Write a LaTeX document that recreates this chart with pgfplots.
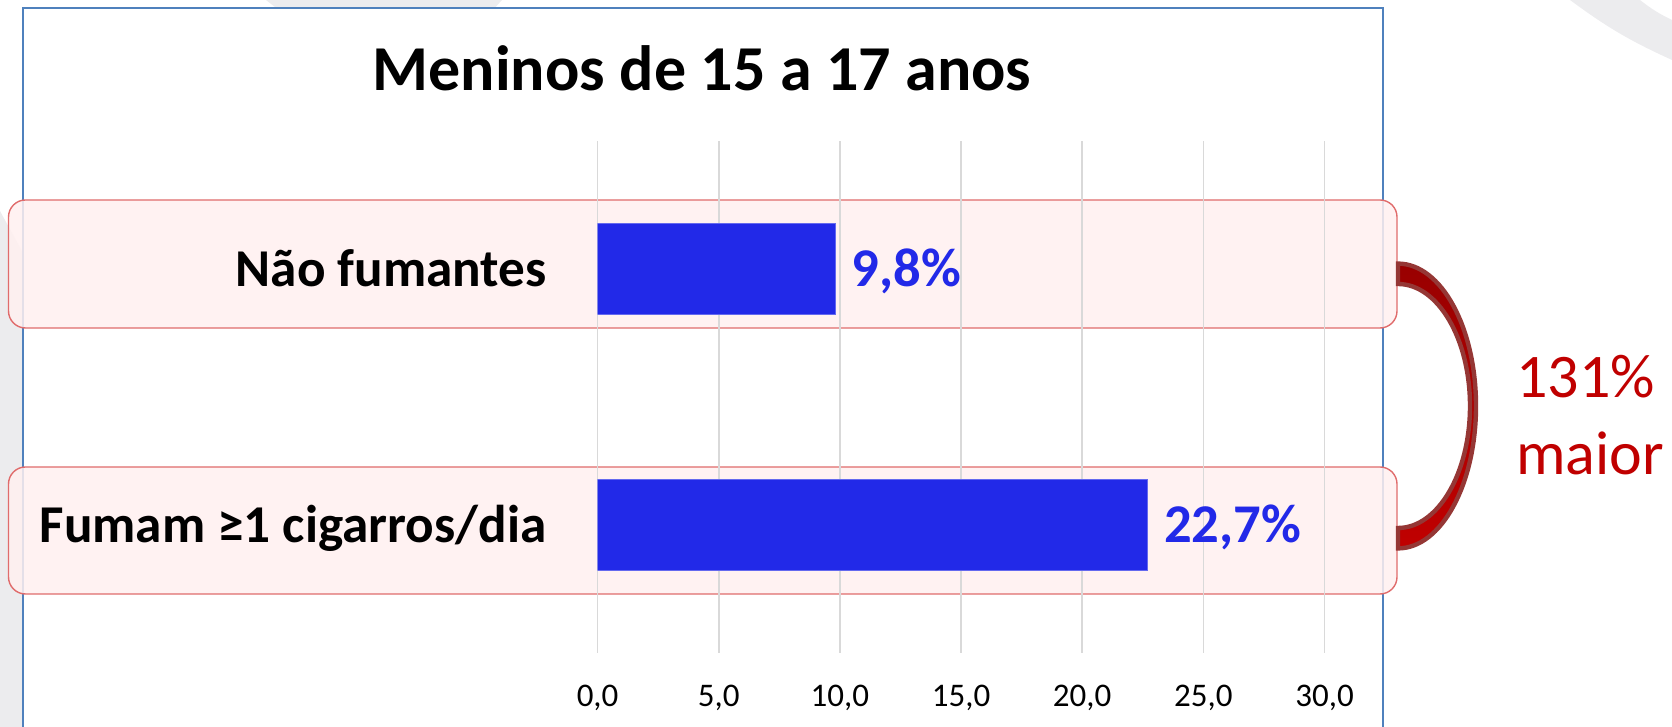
\documentclass[border=0pt]{standalone}
\usepackage{fontspec}
\setmainfont{Carlito}
\usepackage{pgfplots}
\pgfplotsset{compat=1.18}
\definecolor{barblue}{HTML}{2229E8}
\definecolor{frameblue}{HTML}{4F81BD}
\definecolor{gridgray}{HTML}{D9D9D9}
\definecolor{boxfill}{HTML}{FFF0F0}
\definecolor{boxline}{HTML}{E06C6C}
\definecolor{darkred}{HTML}{C00000}
\definecolor{brkborder}{HTML}{953735}
\definecolor{brktop}{HTML}{990000}
\definecolor{ringgray}{HTML}{ECECEE}
\begin{document}
\begin{tikzpicture}
\useasboundingbox (0,0) rectangle (836pt,363.5pt);
\clip (0,0) rectangle (836pt,363.5pt);
% faint background watermark
\fill[ringgray] (785pt,363.5pt) to[bend right=6] (836pt,333.5pt) -- (836pt,353.5pt) to[bend left=6] (820pt,363.5pt) -- cycle;
\fill[ringgray] (133pt,363.5pt) -- (251pt,363.5pt) -- (246pt,358pt) -- (140pt,358pt) -- cycle;
\fill[ringgray] (0pt,258pt) -- (12pt,236pt) -- (12pt,0pt) -- (0pt,0pt) -- cycle;
% chart frame
\draw[frameblue, line width=1pt, fill=white] (11.5pt,-5pt) rectangle (691.5pt,359.5pt);
% highlight boxes
\draw[boxline, line width=0.7pt, fill=boxfill, fill opacity=0.85, rounded corners=8.5pt] (4.25pt,199.5pt) rectangle (698.5pt,263.5pt);
\draw[boxline, line width=0.7pt, fill=boxfill, fill opacity=0.85, rounded corners=8.5pt] (4.25pt,66.5pt) rectangle (698.5pt,130pt);
% bracket
\path[draw=brkborder, line width=2.2pt, top color=brktop, bottom color=darkred]
  (699pt,231.7pt) arc[start angle=90,end angle=-90,x radius=39pt,y radius=71.2pt]
  -- (699pt,99.5pt) arc[start angle=-90,end angle=90,x radius=36pt,y radius=61pt] -- cycle;
% title
\node[anchor=base, inner sep=0pt, font=\bfseries\fontsize{32pt}{38pt}\selectfont] at (351pt,318pt) {Meninos de 15 a 17 anos};
\begin{axis}[
  at={(298.8pt,37pt)}, anchor=south west,
  scale only axis, width=363.45pt, height=256pt,
  xbar, bar width=45.5pt,
  xmin=0, xmax=30, ymin=-0.5, ymax=1.5,
  axis line style={draw=none},
  major tick length=0pt,
  xtick={0,5,10,15,20,25,30},
  xmajorgrids, grid style={draw=gridgray, line width=0.8pt},
  ytick={0,1},
  yticklabels={Fumam ≥1 cigarros/dia, Não fumantes},
  /pgf/number format/.cd, fixed, precision=1, fixed zerofill, use comma, assume math mode=true,
  /pgfplots/.cd,
  xticklabel style={anchor=north, inner sep=0pt, yshift=-16pt, text height=10.4pt, text depth=0pt, font=\fontsize{16.5pt}{20pt}\selectfont},
  yticklabel style={anchor=east, inner sep=0pt, xshift=-25.3pt, text height=17.1pt, text depth=0pt, font=\bfseries\fontsize{26.6pt}{31pt}\selectfont},
  point meta=x,
  nodes near coords={\pgfmathprintnumber{\pgfplotspointmeta}\%},
  every node near coord/.append style={font=\bfseries\fontsize{27.3pt}{32pt}\selectfont, text=barblue, inner sep=0pt, xshift=8pt, text height=17.5pt, text depth=0pt},
]
\addplot[fill=barblue, draw=barblue!70!white, line width=0.5pt] coordinates {(22.7,0) (9.8,1)};
\end{axis}
% annotation
\node[anchor=base west, inner sep=0pt, text=darkred, font=\fontsize{31pt}{37pt}\selectfont] at (758pt,164.5pt) {131\%};
\node[anchor=base west, inner sep=0pt, text=darkred, font=\fontsize{31pt}{37pt}\selectfont] at (758pt,126pt) {maior};
\end{tikzpicture}
\end{document}
